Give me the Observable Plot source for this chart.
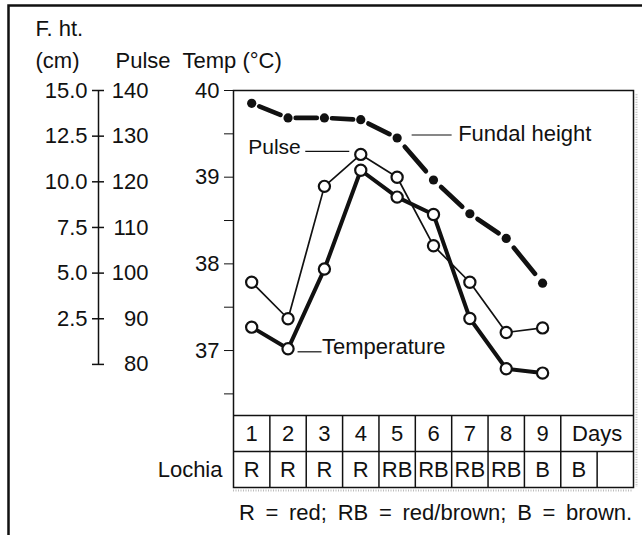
<!DOCTYPE html>
<html>
<head>
<meta charset="utf-8">
<script src="https://cdn.jsdelivr.net/npm/d3@7"></script>
<script src="https://cdn.jsdelivr.net/npm/@observablehq/plot@0.6"></script>
<style>
  html, body { margin: 0; padding: 0; background: #fff; }
  #chart { width: 642px; height: 535px; overflow: hidden; }
  #chart svg { display: block; }
</style>
</head>
<body>
<div id="chart"></div>
<script>
// ---- data ----
const days = [1, 2, 3, 4, 5, 6, 7, 8, 9];
const temperature = [37.27, 37.02, 37.94, 39.08, 38.77, 38.57, 37.37, 36.79, 36.74]; // °C
const pulse = [98, 90, 119, 126, 121, 106, 98, 87, 88];                               // beats/min
const fundalHeight = [14.3, 13.5, 13.5, 13.4, 12.4, 10.1, 8.25, 6.9, 4.45];            // cm
const tempTicks = [40, 39.5, 39, 38.5, 38, 37.5, 37, 36.5];
const pulseTicks = [140, 130, 120, 110, 100, 90, 80];
const fhtTicks = [15.0, 12.5, 10.0, 7.5, 5.0, 2.5];
const dayLabels = ["1", "2", "3", "4", "5", "6", "7", "8", "9", "Days"];
const lochia = ["R", "R", "R", "R", "RB", "RB", "RB", "RB", "B", "B"];
const caption = "R = red; RB = red/brown; B = brown.";

// ---- scale relations of the chart ----
const plotBottom = 36.25;          // temperature at bottom of plotting area
const rowH = 0.415;                // table row height in temperature units
const tableBottom = plotBottom - 2 * rowH;
const pulseAxis = {top: 140, topTemp: 40.0, bottom: 80, bottomTemp: 36.84};
const pulseY = p => pulseAxis.topTemp - (pulseAxis.top - p) * (pulseAxis.topTemp - pulseAxis.bottomTemp) / (pulseAxis.top - pulseAxis.bottom);
const fhtToPulse = cm => 80 + 4 * cm;   // 2.5 cm per 10 beats, 15 cm = 140

const temp = days.map((d, i) => ({day: d, v: temperature[i]}));
const pul = days.map((d, i) => ({day: d, v: pulseY(pulse[i])}));
const fht = days.map((d, i) => ({day: d, v: pulseY(fhtToPulse(fundalHeight[i]))}));
// each fundal-height segment drawn on its own so every gap carries one dash
const fhtSegs = fht.slice(0, -1).flatMap((p, i) => [{...p, seg: i}, {...fht[i + 1], seg: i}]);

const FONT = 22;
const black = "#111";
const header = (label, dx, dy) =>
  Plot.text([label], {frameAnchor: "top-left", text: d => d, textAnchor: "start", lineAnchor: "middle", dx, dy, fill: black});

const chart = Plot.plot({
  width: 642,
  height: 535,
  marginLeft: 233,
  marginRight: 9,
  marginTop: 90,
  marginBottom: 48,
  x: {domain: [0.5, 11.5], axis: null},
  y: {
    domain: [tableBottom, 40],
    ticks: tempTicks,
    tickSize: 9,
    tickPadding: 5,
    tickFormat: d => Number.isInteger(d) ? String(d) : "",
    label: null
  },
  style: {fontFamily: "'Liberation Sans', Arial, sans-serif", fontSize: FONT + "px", color: black, background: "white", overflow: "hidden"},
  marks: [
    // outer border (only left and top visible)
    Plot.frame({insetLeft: -225, insetTop: -85, insetRight: -40, insetBottom: -80, stroke: black, strokeWidth: 2.5}),
    // faint scan shadow along the right and bottom of the table
    Plot.ruleX([11.5], {y1: () => 39.95, y2: () => tableBottom, dx: 3, stroke: "#bbb", strokeWidth: 2, strokeDasharray: "1 1.5"}),
    Plot.ruleY([tableBottom], {dy: 3, stroke: "#bbb", strokeWidth: 2, strokeDasharray: "1 1.5"}),
    // plotting frame + table
    Plot.frame({stroke: black, strokeWidth: 1.5}),
    Plot.ruleY([plotBottom, plotBottom - rowH], {stroke: black, strokeWidth: 1.5}),
    Plot.ruleX(days.map(d => d + 0.5), {y1: () => plotBottom, y2: () => plotBottom - rowH, stroke: black, strokeWidth: 1.5}),
    Plot.ruleX(days.concat([10]).map(d => d + 0.5), {y1: () => plotBottom - rowH, y2: () => tableBottom, stroke: black, strokeWidth: 1.5}),
    Plot.text(dayLabels, {x: (d, i) => i < 9 ? i + 1 : 10.5, y: () => plotBottom - rowH / 2, text: d => d, fill: black}),
    Plot.text(lochia, {x: (d, i) => i + 1, y: () => plotBottom - 1.5 * rowH, text: d => d, fill: black}),
    Plot.text(["Lochia"], {frameAnchor: "left", y: () => plotBottom - 1.5 * rowH, text: d => d, textAnchor: "end", dx: -11, fill: black}),
    Plot.text([caption], {frameAnchor: "bottom", text: d => d, lineAnchor: "middle", dy: 25, dx: 2, fill: black}),

    // left combined F.ht / pulse axis
    Plot.ruleX([0.5], {y1: () => pulseY(140), y2: () => pulseY(80), dx: -135, stroke: black, strokeWidth: 1.5}),
    Plot.ruleY(pulseTicks, {y: pulseY, x1: () => 0.5, x2: () => 0.5, insetLeft: -6, insetRight: -6, dx: -135, stroke: black, strokeWidth: 1.5}),
    Plot.text(pulseTicks, {y: pulseY, text: d => String(d), frameAnchor: "left", textAnchor: "end", dx: -85, fill: black}),
    Plot.text(fhtTicks, {y: d => pulseY(fhtToPulse(d)), text: d => d.toFixed(1), frameAnchor: "left", textAnchor: "end", dx: -146, fill: black}),

    // headers
    header("F. ht.", -198, -62),
    header("(cm)", -198, -30),
    header("Pulse", -118, -30),
    header("Temp (°C)", -51, -30),

    // fundal height: dashed thick line + filled dots
    Plot.line(fhtSegs, {x: "day", y: "v", z: "seg", stroke: black, strokeWidth: 4.7, strokeDasharray: "0 21 58 100"}),
    Plot.dot(fht, {x: "day", y: "v", r: 4.6, fill: black, stroke: "none"}),

    // pulse (thin) and temperature (thick) lines
    Plot.line(pul, {x: "day", y: "v", stroke: black, strokeWidth: 1.7}),
    Plot.line(temp, {x: "day", y: "v", stroke: black, strokeWidth: 4}),
    Plot.dot(pul, {x: "day", y: "v", r: 5.6, fill: "white", stroke: black, strokeWidth: 2.2}),
    Plot.dot(temp, {x: "day", y: "v", r: 5.6, fill: "white", stroke: black, strokeWidth: 2.2}),

    // annotations anchored to data points
    Plot.ruleY([fht[4]], {y: "v", x1: "day", x2: "day", insetLeft: 15, insetRight: -55, dy: -3, stroke: black, strokeWidth: 1.2}),
    Plot.text([fht[4]], {x: "day", y: "v", text: () => "Fundal height", textAnchor: "start", dx: 61, dy: -4, fill: black}),
    Plot.ruleY([pul[3]], {y: "v", x1: "day", x2: "day", insetLeft: -55, insetRight: 11, dy: -3, stroke: black, strokeWidth: 1.2}),
    Plot.text([pul[3]], {x: "day", y: "v", text: () => "Pulse", textAnchor: "end", dx: -60, dy: -7, fontSize: 21, fill: black}),
    Plot.ruleY([temp[1]], {y: "v", x1: "day", x2: "day", insetLeft: 10, insetRight: -34, dy: 3, stroke: black, strokeWidth: 1.2}),
    Plot.text([temp[1]], {x: "day", y: "v", text: () => "Temperature", textAnchor: "start", dx: 34, dy: -2, fill: black})
  ]
});

document.getElementById("chart").appendChild(chart);

// per-segment dash pattern: normalise each segment's length
d3.select(chart).selectAll("g[stroke-dasharray] path").attr("pathLength", 100);
// wider word spacing of the key line, as in the original typesetting
d3.select(chart).selectAll("text").filter(function() { return this.textContent === caption; })
  .style("word-spacing", "4.6px");
</script>
</body>
</html>
